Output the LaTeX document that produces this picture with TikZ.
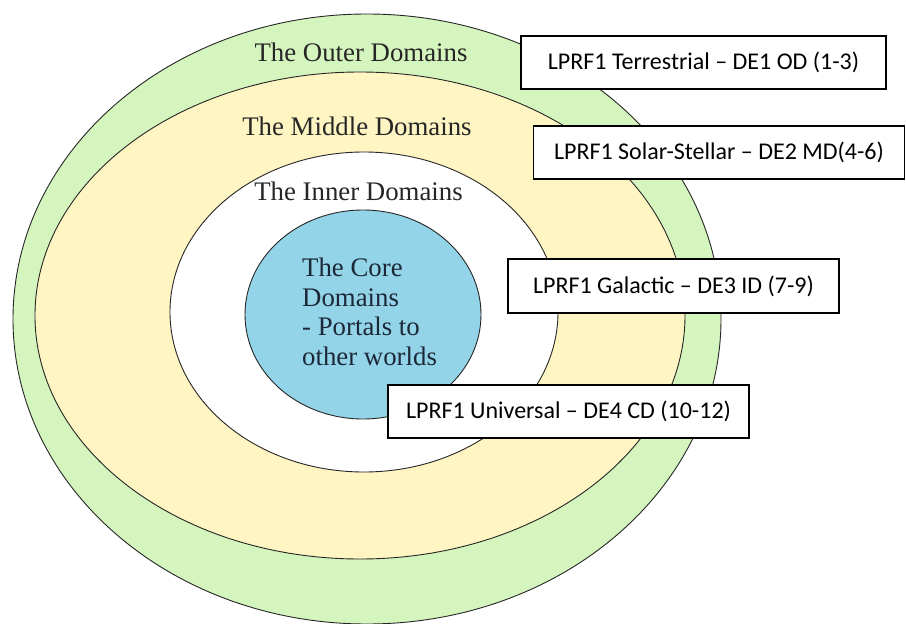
\documentclass[tikz,border=0pt]{standalone}
\usepackage{fontspec}
\usepackage{xcolor}
\usetikzlibrary{shapes.geometric,positioning}
\newfontfamily\ringfont{Liberation Serif}
\newfontfamily\boxfont{Carlito}
\definecolor{outergreen}{HTML}{D5F5BE}
\definecolor{middleyellow}{HTML}{FFF5C3}
\definecolor{corecyan}{HTML}{93D4E8}
\definecolor{coretext}{HTML}{1C2838}

\begin{document}
\begin{tikzpicture}[x=1pt,y=-1pt,
		ring/.style={ellipse,draw=black!85,line width=0.9pt,inner sep=0pt},
		ringlabel/.style={anchor=base,inner sep=0pt,text=black!85,font=\ringfont\fontsize{26.8}{29.5}\selectfont},
		levelbox/.style={draw=black,line width=1.6pt,fill=white,inner sep=0pt,font=\boxfont\fontsize{24}{28}\selectfont}]
			\clip (0,0) rectangle (906,624);
			\fill[white] (0,0) rectangle (906,624);
			% domains
			\node[ring,fill=outergreen,minimum width=708pt,minimum height=610pt] (outer) at (367,319) {};
			\node[ring,fill=middleyellow,minimum width=650pt,minimum height=487pt] (middle) at (360,315.5) {};
			\node[ring,fill=white,minimum width=388pt,minimum height=320pt] (inner) at (364,312) {};
			\node[ring,fill=corecyan,minimum width=236pt,minimum height=209pt] (core) at (363,314.5) {};
			\node[ringlabel] (outerlabel) at (361,61) {The Outer Domains};
			\node[ringlabel] (middlelabel) at (357,135) {The Middle Domains};
			\node[ringlabel] (innerlabel) at (358.5,200) {The Inner Domains};
			\node[ringlabel,anchor=west,align=left,text=coretext] (corelabel) at (302,312) {The Core\\Domains\\- Portals to\\other worlds};
			% levels
			\node[levelbox,minimum width=365pt,minimum height=53pt] (lvlOD) at (703.5,62.5) {LPRF1 Terrestrial – DE1 OD (1-3)};
			\node[levelbox,minimum width=371pt,minimum height=53pt] (lvlMD) at (719,152.5) {LPRF1 Solar-Stellar – DE2 MD(4-6)};
			\node[levelbox,minimum width=331pt,minimum height=54pt] (lvlID) at (673.5,286) {LPRF1 Galactic – DE3 ID (7-9)};
			\node[levelbox,minimum width=361pt,minimum height=53pt] (lvlCD) at (568.5,411.5) {LPRF1 Universal – DE4 CD (10-12)};
\end{tikzpicture}
\end{document}
